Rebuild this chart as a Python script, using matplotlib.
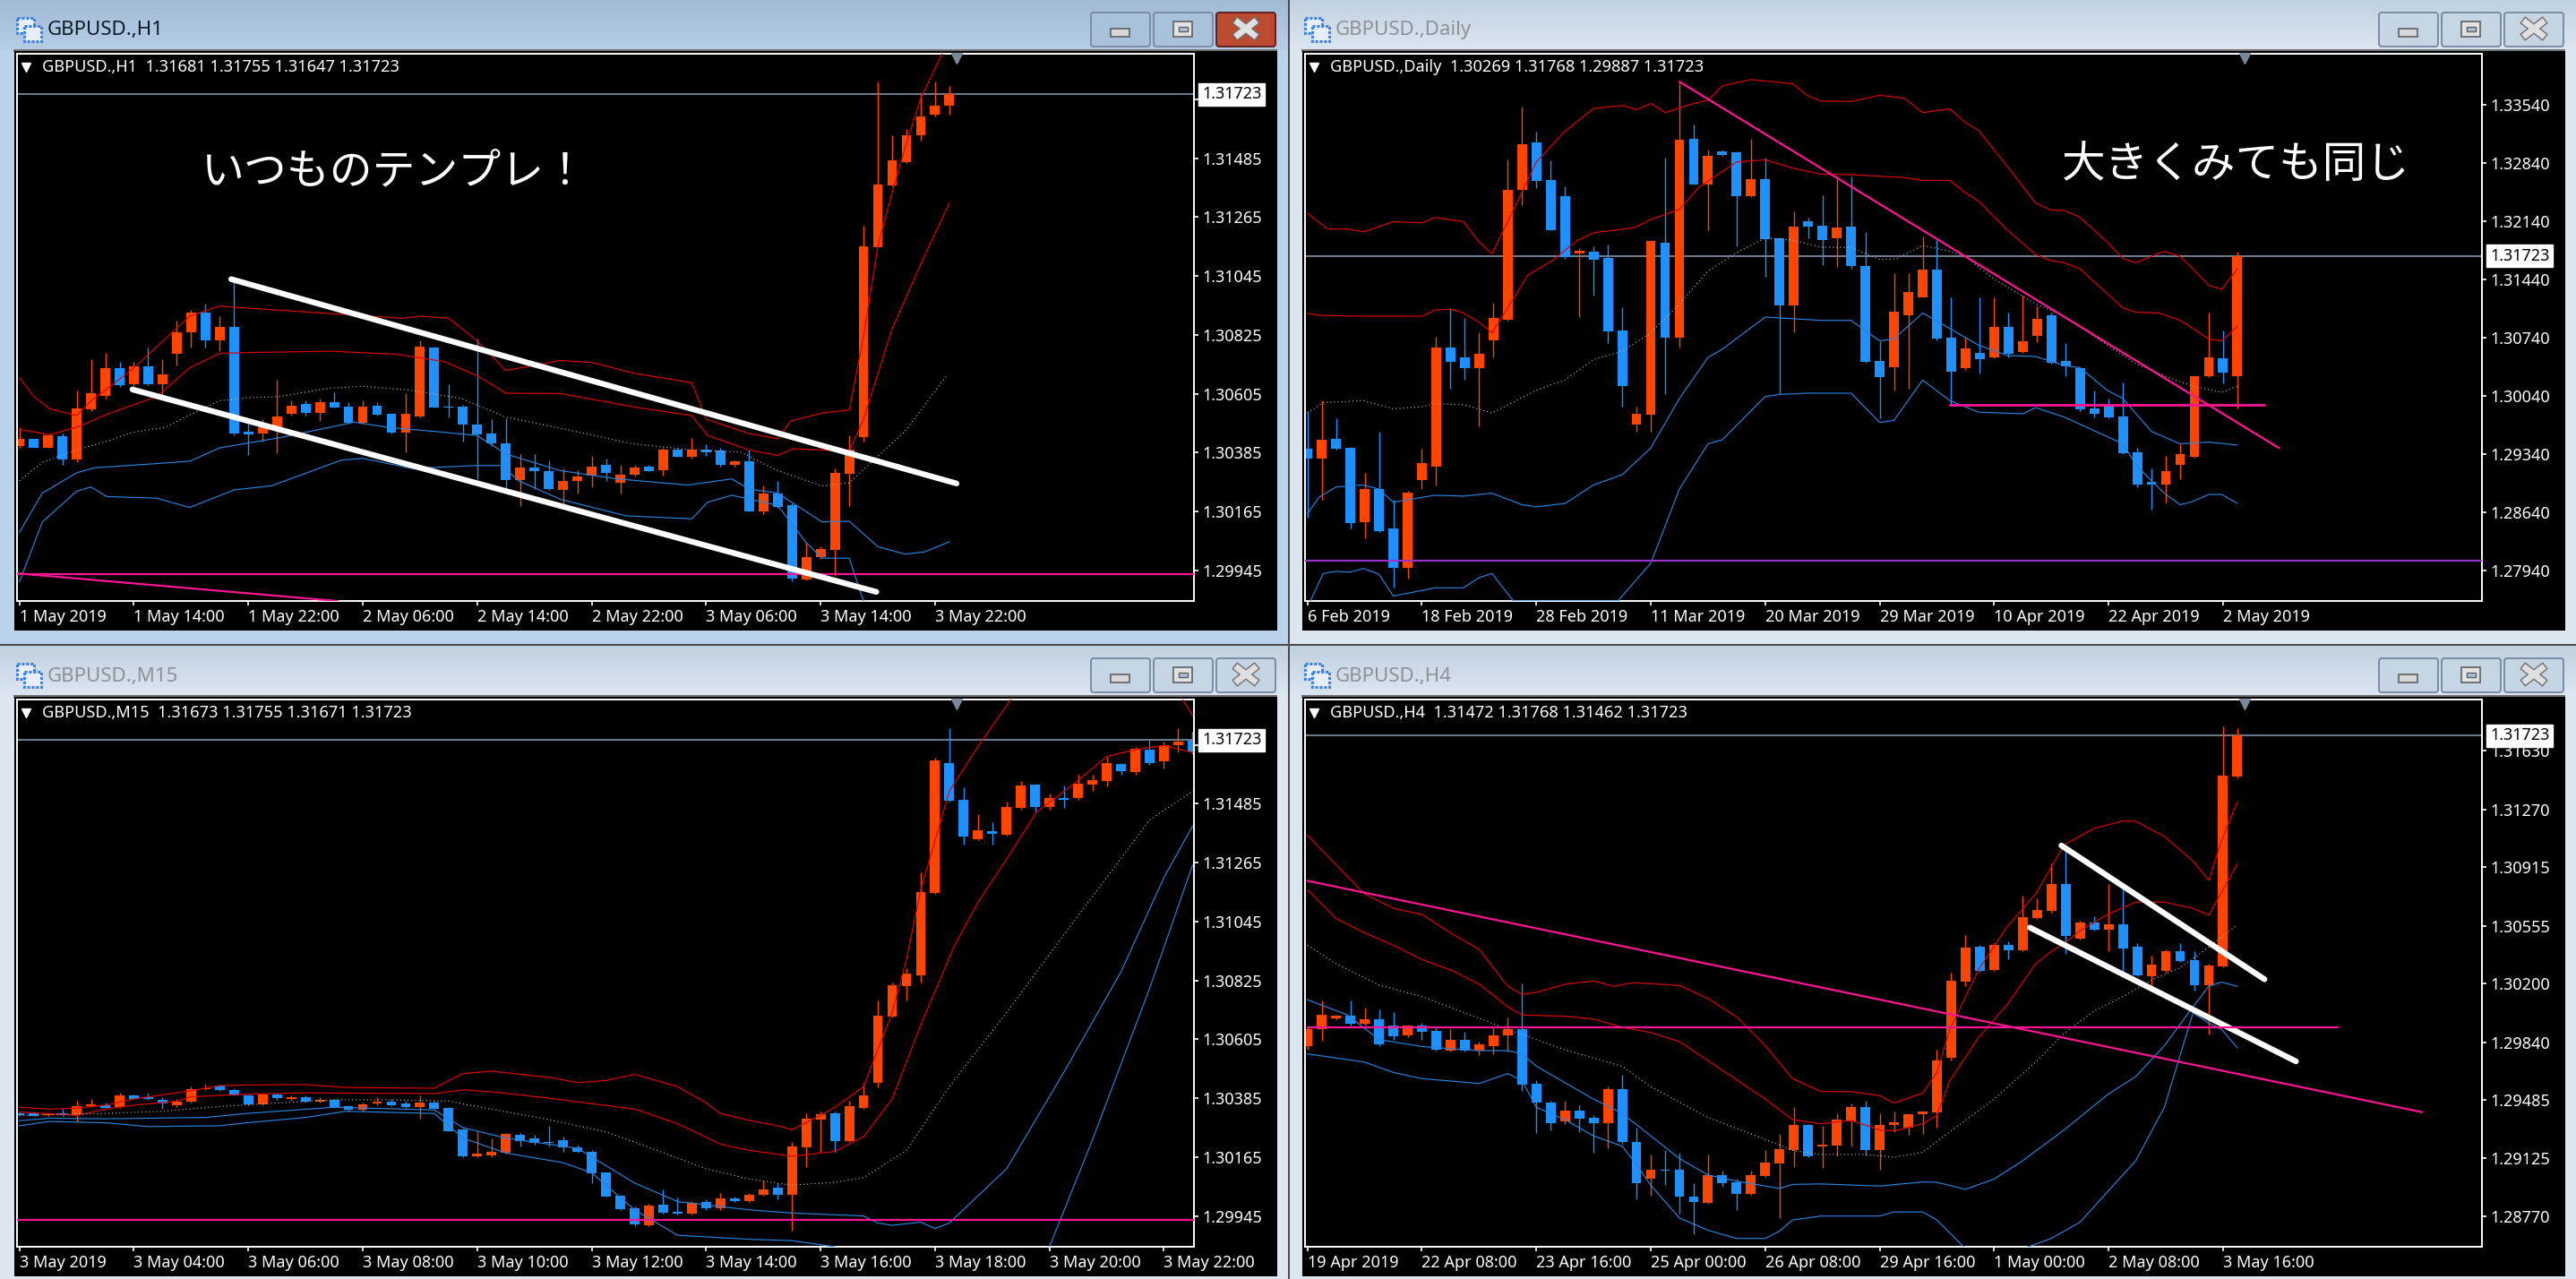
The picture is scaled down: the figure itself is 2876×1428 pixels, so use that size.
import numpy as np
import matplotlib
matplotlib.use("Agg")
import matplotlib.pyplot as plt
from matplotlib.patches import Rectangle, FancyBboxPatch
from matplotlib.transforms import blended_transform_factory

W, H = 2876, 1428
plt.rcParams['font.family'] = ['Noto Sans', 'Noto Sans CJK JP', 'DejaVu Sans']

ORANGE = "#ff4500"
BLUE = "#1e90ff"
BAND_BLUE = "#2a82dc"
PINK = "#ff1493"
RED = "#e00000"
LAST = 131723

# prices are kept in points (1e-5)
# ---- H1 ----
h1_open = [130410,130435,130404,130446,130360,130546,130598,130702,130639,130707,130639,130753,130835,130907,130805,130856,130463,130458,130480,130529,130566,130532,130572,130558,130496,130561,130529,130461,130521,130779,130558,130558,130490,130455,130420,130281,130330,130315,130246,130278,130298,130338,130272,130304,130332,130318,130398,130370,130398,130392,130341,130353,130167,130234,130188,129911,129995,130023,130307,130444,131154,131382,131471,131569,131646,131681]
h1_high = [130480,130435,130457,130457,130618,130733,130759,130725,130725,130779,130733,130879,130918,130941,130895,131033,130495,130510,130656,130579,130579,130587,130610,130572,130579,130572,130533,130606,130805,130782,130641,130564,130810,130510,130513,130380,130380,130357,130326,130318,130372,130364,130341,130341,130341,130403,130403,130441,130418,130403,130357,130395,130264,130280,130195,130049,130034,130326,130449,131233,131771,131571,131594,131724,131771,131755]
h1_low = [130403,130404,130403,130341,130349,130541,130587,130630,130633,130636,130602,130710,130779,130779,130764,130449,130377,130426,130383,130523,130523,130503,130553,130495,130495,130523,130458,130387,130518,130552,130518,130426,130287,130410,130249,130184,130249,130246,130195,130234,130257,130280,130234,130295,130315,130298,130369,130364,130372,130334,130334,130164,130157,130180,129903,129908,129988,129926,130184,130426,131151,131379,131468,131552,131640,131647]
h1_close = [130437,130404,130449,130361,130549,130606,130702,130636,130707,130639,130676,130836,130907,130805,130856,130458,130453,130480,130521,130561,130532,130572,130555,130496,130558,130526,130461,130529,130782,130555,130555,130490,130452,130420,130281,130330,130315,130249,130280,130297,130332,130309,130303,130330,130317,130398,130370,130398,130387,130341,130353,130167,130231,130183,129914,129995,130026,130310,130397,131156,131385,131476,131572,131640,131681,131723]
h1_up2_x = [0,1,2.1,4,5,6,8,11.9,14,15,22.5,26.8,28,30,32,34,37.8,40,42.9,47,48,51,53,53.9,56.1,58,59,60,61,62,63,64.5]
h1_up2_y = [130664,130595,130549,130523,130579,130618,130702,130895,130933,130928,130902,130887,130895,130887,130802,130692,130729,130722,130682,130646,130510,130456,130437,130503,130533,130544,130818,131156,131356,131540,131709,131875]
h1_up1_x = [0,2.1,4,6,9.6,11.9,14,15.9,21.7,26.3,29.7,32,34,37.8,42.9,47,48.1,51,53,54.1,58,59,61,63.3,65]
h1_up1_y = [130472,130452,130480,130526,130595,130702,130756,130759,130764,130753,130725,130672,130607,130606,130556,130523,130449,130395,130375,130400,130390,130510,130848,131125,131317]
h1_mid_x = [0,1.6,4,6,7.9,10.2,11.9,14,15.9,18.2,21.7,24,27.4,30.9,34,38.9,42.9,47,50.4,53,56.1,58,60,61.9,64.8]
h1_mid_y = [130280,130349,130395,130426,130461,130480,130526,130579,130590,130595,130626,130633,130618,130587,130518,130464,130418,130395,130387,130318,130261,130272,130372,130464,130672]
h1_lo1_x = [0,1.6,4,5.3,7.9,11.9,14,18.2,21.7,23.4,25.7,29.7,32,34,37.8,41.8,46.7,49.8,51,53,56.1,58,60,61.9,63.3,65]
h1_lo1_y = [130088,130234,130310,130329,130338,130353,130403,130441,130480,130499,130480,130461,130449,130380,130318,130287,130264,130287,130249,130234,130126,130129,130034,130006,130015,130052]
h1_lo2_x = [0,1.6,4,5,6.1,9.6,11.9,15,17.6,22.5,24,27.4,32,33.7,34.9,37.8,42.4,47,48.1,49.8,53,55,56.1,58,59,59.5]
h1_lo2_y = [129903,130126,130241,130257,130221,130215,130180,130246,130261,130357,130364,130326,130337,130337,130280,130211,130149,130138,130200,130226,130188,130049,129991,129991,129831,129773]
h1_ticks = [131705,131485,131265,131045,130825,130605,130385,130165,129945]
h1_times = ["1 May 2019","1 May 14:00","1 May 22:00","2 May 06:00","2 May 14:00","2 May 22:00","3 May 06:00","3 May 14:00","3 May 22:00"]
h1_ylim = (129831, 131875)
h1_white1_x, h1_white1_y = [14.8, 65.5], [131033, 130270]
h1_white2_x, h1_white2_y = [7.9, 59.9], [130621, 129865]
h1_pink_level = 129931
h1_pink2_x, h1_pink2_y = [-0.1, 22.2], [129934, 129831]

# ---- Daily ----
d1_open = [129396,129287,129524,129415,128519,128920,128445,127970,129029,129188,130623,130505,130366,130708,130955,132510,133084,132629,132445,131747,131772,131693,130826,129693,129806,131876,130732,133124,132584,132975,132965,132445,132648,131935,131128,132143,132079,131930,132069,131604,130460,130386,131005,131227,131559,130742,130366,130549,130505,130871,130569,130762,131010,130460,130376,129891,129930,129792,129361,129005,128975,129207,129306,130277,130485,130269]
d1_high = [129856,129980,129767,129420,129113,129608,128791,128891,129396,130747,131094,130970,130807,131153,132886,133520,133213,132876,132554,131812,131836,131861,131104,129906,131911,132901,133817,133297,133000,133000,132975,133124,132901,131945,132257,132183,132455,132678,132678,132010,130698,131515,131515,131960,131911,131218,130747,131218,131218,131044,131242,131119,131044,130673,130376,130104,130005,130203,129410,129163,129311,129460,130277,131034,130821,131768]
d1_low = [128569,128791,129386,128445,128321,128395,127727,127841,128915,128955,130128,130227,129673,130500,130945,132331,132539,132025,131688,130985,131242,130673,129906,129608,129608,130054,130623,132579,132034,132926,131836,132431,131465,130054,130807,131935,131614,131589,131564,130440,129767,130104,130128,131218,130708,129930,130351,130302,130490,130500,130559,130688,130425,130277,129856,129782,129767,129336,128940,128668,128757,129039,129296,130267,130188,129887]
d1_close = [129277,129514,129396,128504,128920,128405,127970,128876,129232,130614,130450,130366,130539,130970,132510,133069,132624,132034,131703,131787,131678,130812,130158,129826,131896,130732,133114,132584,132921,132940,132445,132643,131926,131128,132069,132069,131916,132059,131594,130450,130267,131054,131292,131559,130722,130326,130604,130475,130871,130539,130698,130960,130435,130391,129871,129816,129782,129346,128965,128965,129133,129341,130277,130505,130316,131723]
d1_up2_x = [0,1.4,2.8,3.9,6,8,8.9,10.9,12,12.9,14,16,18,20,22,23,24,25,26.8,28,29,31,33.9,35,35.9,38,40,41.7,43,44.9,46,46.9,48.9,50.9,52,52.9,54,55.9,57,57.9,59.9,61,61.9,63,63.9,65]
d1_up2_y = [132232,132044,132044,132010,132133,132119,132183,132133,131886,131747,132133,132851,133223,133495,133530,133480,133554,133445,133545,133594,133767,133842,133792,133644,133584,133579,133653,133619,133445,133490,133322,133233,132802,132356,132272,132267,132183,131886,131688,131638,131777,131713,131564,131366,131317,131564]
d1_up1_x = [0,.8,3.9,8,8.9,10,10.9,12,12.9,14,15.4,17.1,18.9,20,22.8,24,26,27.4,30,32,33.9,35.9,38,41.7,43,44.9,46,46.9,48.9,50.9,52,52.9,54,57,57.9,59.5,61,63,63.9,65]
d1_up1_y = [131029,131005,130995,130995,131069,131079,131034,130920,130797,131094,131490,131663,131911,132000,132059,132158,132282,132554,132851,132876,132777,132703,132698,132663,132629,132629,132480,132381,132034,131737,131663,131638,131564,131094,131044,131034,130945,130722,130698,130871]
d1_mid_x = [0,1.1,3.9,6,8,8.9,10.9,12.9,16,18,20,22,24,26,28,30,32,33.9,35.9,38,40,41.2,43,44.9,46,48,50.9,52.9,55.9,57.9,59.9,61.9,63.9,65]
d1_mid_y = [129831,129955,129980,129881,129906,129945,129930,129831,130104,130227,130475,130574,130797,131143,131539,131762,131935,131911,131826,131822,131678,131688,131846,131777,131713,131440,131143,130995,130648,130425,130277,130153,130079,130153]
d1_lo1_x = [0,.8,2,3.9,5,6,8,8.9,10.9,12.9,15,16,18,20,22,24,26,28,29,32,35.9,38,40,41,43,44.9,46.9,48.9,50.9,52.9,54,55.9,57,59,61,63,65]
d1_lo1_y = [128618,128816,128940,128965,128915,128757,128816,128841,128831,128866,128727,128702,128742,128965,129089,129410,130005,130500,130599,130985,130945,130945,130698,130722,131034,130846,130648,130524,130510,130401,130376,130104,130005,129608,129460,129480,129445]
d1_lo2_x = [.2,1.1,2,3,3.9,5,6,8.9,10.9,12,12.9,14.4,21.7,24,26,28,29,32,33,35,38,40,41,43,44.9,46.9,50,50.9,52.9,57,57.9,59,59.9,61,61.9,63,63.9,65]
d1_lo2_y = [127569,127900,127925,127915,127960,127891,127628,127727,127727,127851,127900,127569,127569,128024,128915,129460,129509,130029,130054,130069,130069,129717,129742,130227,129980,129841,129821,129896,129782,129460,129212,129014,128866,128727,128767,128851,128851,128742]
d1_ticks = [133540,132840,132140,131440,130740,130040,129340,128640,127940]
d1_times = ["6 Feb 2019","18 Feb 2019","28 Feb 2019","11 Mar 2019","20 Mar 2019","29 Mar 2019","10 Apr 2019","22 Apr 2019","2 May 2019"]
d1_ylim = (127569, 134153)
d1_pink_x, d1_pink_y = [26, 67.9], [133817, 129410]
d1_pink2_x, d1_pink2_y = [44.9, 66.9], [129930, 129930]
d1_purple_level = 128059

# ---- M15 ----
m15_open = [130330,130330,130321,130328,130321,130354,130359,130351,130397,130387,130379,130358,130371,130418,130431,130416,130397,130362,130399,130381,130390,130371,130379,130356,130341,130365,130371,130364,130351,130367,130347,130267,130168,130172,130180,130247,130235,130221,130227,130203,130186,130106,130022,129975,129910,129988,129959,129953,129998,129973,130011,129999,130024,130050,130024,130203,130305,130327,130226,130348,130443,130691,130805,130845,131152,131638,131500,131352,131382,131370,131468,131557,131471,131505,131505,131557,131568,131632,131604,131686,131644,131702,131721]
m15_high = [130336,130336,130333,130344,130374,130382,130367,130405,130400,130405,130390,130382,130428,130440,130436,130423,130400,130405,130405,130394,130397,130390,130382,130359,130367,130387,130382,130374,130394,130374,130351,130270,130260,130236,130256,130256,130247,130282,130241,130210,130191,130109,130025,129981,129991,130045,130014,129999,130007,130030,130017,130030,130079,130068,130221,130327,130336,130336,130374,130443,130750,130818,130872,131228,131656,131768,131546,131447,131416,131493,131569,131561,131523,131554,131592,131592,131661,131635,131696,131722,131718,131768,131755]
m15_low = [130319,130319,130319,130319,130298,130351,130348,130348,130381,130378,130344,130351,130367,130416,130413,130394,130359,130359,130378,130374,130367,130367,130348,130336,130336,130359,130354,130348,130310,130344,130260,130164,130164,130164,130177,130206,130212,130206,130186,130180,130068,130017,129968,129907,129907,129953,129950,129950,129968,129968,129996,129996,130020,130007,129889,130129,130183,130186,130221,130344,130425,130688,130750,130818,131148,131494,131332,131350,131332,131367,131462,131454,131462,131470,131500,131534,131549,131592,131592,131630,131615,131676,131671]
m15_close = [130321,130319,130324,130321,130354,130362,130350,130397,130382,130381,130364,130373,130420,130423,130416,130397,130362,130399,130384,130390,130371,130379,130351,130341,130361,130371,130358,130351,130368,130345,130263,130168,130177,130186,130252,130224,130217,130217,130203,130184,130103,130019,129972,129912,129984,129956,129953,129995,129973,130011,129999,130025,130045,130024,130206,130309,130324,130224,130354,130397,130694,130808,130849,131156,131646,131497,131362,131384,131373,131474,131554,131471,131505,131499,131561,131572,131638,131607,131689,131635,131705,131716,131681]
m15_up2_x = [0,2.1,4,6,8,12,14,15.9,19.9,22.8,29,30,31,33,35,37,39,41,43,46,48,49,51,53,54,56,57,59,60,61,62,63,64,65,67,69.3,75.1,81.3,82]
m15_up2_y = [130351,130344,130348,130359,130382,130413,130432,130434,130436,130425,130422,130451,130477,130486,130474,130463,130443,130451,130474,130428,130367,130328,130302,130282,130267,130321,130351,130428,130566,130704,130903,131163,131347,131531,131699,131874,132190,131874,131814]
m15_up1_x = [0,4,6,8,11,12,15.9,19.9,29,31,33,37,43,46,49,51,54,57,59,61,63,65.3,67,69.1,71.1,73.4,76,78,80,82]
m15_up1_y = [130333,130321,130344,130359,130374,130390,130400,130405,130402,130416,130409,130385,130344,130290,130213,130190,130168,130186,130241,130382,130658,130949,131117,131286,131454,131546,131661,131687,131702,131676]
m15_mid_x = [0,6,10,14,18,22,26,30,33,37,41,43,48,51,54,57,59,62,65,69,73,76,79,82]
m15_mid_y = [130321,130328,130336,130354,130367,130379,130379,130374,130344,130305,130259,130221,130121,130083,130060,130071,130088,130190,130428,130704,130995,131209,131424,131531]
m15_lo1_x = [0,2.1,6,13,15.9,22,29,31,34,39,43,46,51,54,59,60,61,63,64,65,69,73,77,80,82]
m15_lo1_y = [130301,130310,130308,130313,130328,130351,130341,130275,130236,130198,130068,129999,129968,129956,129945,129919,129910,129922,129898,129919,130121,130481,130857,131209,131401]
m15_lo2_x = [0,2.1,6,9,14,15.9,20,22.8,29,31,34,38,40,43,46,51,54,57,58,71,72,75,79,82]
m15_lo2_y = [130282,130298,130293,130279,130282,130293,130313,130336,130328,130236,130180,130144,130106,129968,129873,129858,129853,129830,129800,129723,129830,130229,130795,131255]
m15_ticks = h1_ticks
m15_times = ["3 May 2019","3 May 04:00","3 May 06:00","3 May 08:00","3 May 10:00","3 May 12:00","3 May 14:00","3 May 16:00","3 May 18:00","3 May 20:00","3 May 22:00"]
m15_ylim = (129830, 131874)
m15_pink_level = 129930

# ---- H4 ----
h4_open = [129818,129919,129987,130002,129952,129982,129941,129881,129944,129911,129788,129856,129788,129818,129881,129921,129586,129470,129354,129422,129377,129342,129553,129226,128999,129057,129057,128891,128855,129024,128981,128908,129019,129097,129180,129334,129201,129206,129354,129443,129175,129334,129314,129397,129410,129742,130214,130428,130284,130440,130405,130604,130645,130813,130478,130574,130529,130566,130428,130246,130277,130400,130345,130188,130307,131472]
h4_high = [129931,130095,130007,130095,130050,130040,130025,129949,129957,129931,129919,129906,129843,129931,129994,130201,129604,129478,129478,129453,129390,129566,129642,129314,129150,129175,129163,128974,129150,129049,128999,129049,129175,129276,129440,129339,129327,129402,129465,129478,129402,129415,129402,129415,129793,130267,130498,130435,130448,130461,130738,130725,130939,131015,130587,130612,130813,130788,130448,130372,130410,130448,130398,130322,131779,131768]
h4_low = [129793,129848,129982,129944,129944,129818,129856,129868,129856,129788,129780,129780,129763,129768,129780,129541,129284,129301,129339,129289,129163,129188,129218,128873,128898,128961,128785,128659,128848,128949,128810,128903,129012,128760,129075,129133,129067,129138,129201,129143,129054,129289,129269,129276,129314,129730,130183,130272,130277,130347,130398,130599,130637,130385,130473,130524,130398,130272,130246,130183,130267,130335,130158,129889,130302,131462]
h4_close = [129919,130007,130002,129952,129982,129826,129876,129944,129906,129793,129856,129788,129828,129884,129921,129579,129470,129342,129422,129369,129342,129553,129226,128971,129054,129052,128891,128860,129024,128971,128908,129024,129102,129185,129334,129138,129213,129362,129443,129175,129334,129347,129400,129412,129730,130216,130423,130277,130440,130405,130609,130650,130813,130493,130577,130531,130566,130418,130251,130319,130400,130340,130188,130312,131479,131723]
h4_up2_x = [0,2.3,4,6,8,10,12,14,15,16,18,20,21.4,22.8,26,28,30,32,33.9,35.9,38,40,41,43,44,44.9,46.9,48.9,50.9,52.9,55,57,57.9,59.9,61.9,63,63.9,65]
h4_up2_y = [131111,130902,130750,130662,130624,130511,130410,130183,130133,130146,130196,130216,130183,130206,130188,130108,129994,129818,129616,129536,129536,129511,129465,129528,129654,129919,130284,130549,130750,131053,131154,131199,131196,131103,130952,130834,131078,131317]
h4_up1_x = [0,2,4,6,8,10,12,14,15,18,20,22,24,26,29,32,33.9,35.9,38,40,41,43,44,44.9,46.9,48.9,50.9,52,52.9,54,55.9,57.9,59.9,61.9,63,63.9,65]
h4_up1_y = [130776,130599,130511,130435,130347,130284,130196,130057,130007,129999,129982,129931,129899,129843,129667,129490,129364,129339,129359,129301,129294,129339,129390,129604,129868,130070,130322,130398,130448,130524,130624,130700,130700,130662,130619,130763,130934]
h4_mid_x = [0,2,5,8,11,14,16,18,22,24,28,32,33.9,35.9,39,41,43,44.9,48,50.9,52.9,55,57,59,61,63,65]
h4_mid_y = [130435,130322,130191,130120,130020,129919,129856,129793,129692,129566,129377,129243,129175,129150,129150,129133,129163,129289,129490,129717,129894,130032,130120,130221,130297,130423,130561]
h4_lo1_x = [0,2.8,5,8,12,14,15,16,18,20,22,24,26,28,30,33,33.9,35.9,40,43,44,46,48,50,52.9,55.9,57.9,59.9,61.9,63,63.9,65]
h4_lo1_y = [130100,130007,129856,129813,129788,129788,129768,129692,129591,129490,129402,129264,129125,129024,128986,128941,128966,128969,128956,128981,128979,128936,128999,129112,129301,129516,129629,129818,130057,130183,130209,130183]
h4_lo2_x = [0,4,6,8,12,14,15,16,18,20,22,23,24,26,28,30,32,33,33.9,35.9,40,41,43,44,46,50,52,54,57.9,59.9,61.9,63,63.9,65]
h4_lo2_y = [129768,129717,129654,129616,129586,129647,129604,129440,129364,129264,129201,129087,128961,128760,128684,128634,128634,128679,128747,128772,128772,128797,128797,128747,128571,128571,128634,128734,129112,129440,130020,129957,129919,129805]
h4_ticks = [131630,131270,130915,130555,130200,129840,129485,129125,128770]
h4_times = ["19 Apr 2019","22 Apr 08:00","23 Apr 16:00","25 Apr 00:00","26 Apr 08:00","29 Apr 16:00","1 May 00:00","2 May 08:00","3 May 16:00"]
h4_ylim = (128583, 131945)
h4_white1_x, h4_white1_y = [52.7, 66.9], [131048, 130226]
h4_white2_x, h4_white2_y = [50.5, 69.1], [130544, 129722]
h4_pink_x, h4_pink_y = [0, 77.9], [130831, 129410]
h4_pink2_x, h4_pink2_y = [0, 72], [129931, 129931]


def pixel_axes(fig, x0, y0, x1, y1):
    return fig.add_axes([x0 / W, 1 - y1 / H, (x1 - x0) / W, (y1 - y0) / H])


def draw_window(bg, x0, y0, title, active):
    """Terminal window frame behind one chart."""
    if active:
        top, mid, side, txt = "#a2bbd5", "#b6cee7", "#b9d1ea", "#0c1a28"
    else:
        top, mid, side, txt = "#c2d1df", "#dbe6f1", "#dbe6f1", "#8b9298"
    y1 = y0 + 719 if y0 == 0 else 1428
    bg.add_patch(Rectangle((x0, y0), 1438, y1 - y0, fc=side, ec="none"))
    rgb_a = np.array(matplotlib.colors.to_rgb(top))
    rgb_b = np.array(matplotlib.colors.to_rgb(mid))
    grad = np.linspace(0, 1, 56)[:, None, None] * (rgb_b - rgb_a) + rgb_a
    bg.imshow(grad, extent=(x0, x0 + 1438, y0 + 56, y0), aspect="auto", zorder=1)
    bg.add_patch(Rectangle((x0 + 15, y0 + 55), 1411, 3, fc="#707070", ec="none", zorder=2))
    bg.add_patch(Rectangle((x0 + 16, y0 + 57), 1410, 647, fc="black", ec="none", zorder=2))
    # icon
    for dx, dy in ((19, 20), (27, 29)):
        bg.add_patch(Rectangle((x0 + dx, y0 + dy), 19, 17, fc="#e6effb", ec="#3f7fe0", lw=2.2, ls=(0, (1, 0.6)), zorder=3))
    bg.text(x0 + 53, y0 + 34, title, color=txt, fontsize=16, va="center", ha="left", zorder=3)
    # buttons
    for k, bx in enumerate((1218, 1288, 1358)):
        face, edge = "#a9c2dc" if active else "#c6d5e4", "#7c8ca4"
        if active and k == 2:
            face, edge = "#bb4a30", "#5f2020"
        bg.add_patch(FancyBboxPatch((x0 + bx, y0 + 14), 66, 38, boxstyle="round,pad=0,rounding_size=3",
                                    fc=face, ec=edge, lw=1.4, zorder=3))
        cx = x0 + bx + 33
        cy = y0 + 32
        if k == 0:
            bg.add_patch(Rectangle((cx - 11, y0 + 32), 21, 9, fc="#d8d8d8", ec="#606060", lw=1.2, zorder=4))
        elif k == 1:
            bg.add_patch(Rectangle((cx - 11, y0 + 24), 21, 17, fc="#e2e2e2", ec="#606060", lw=1.2, zorder=4))
            bg.add_patch(Rectangle((cx - 5, y0 + 30), 10, 5, fc="#a9c2dc", ec="#606060", lw=1, zorder=5))
        else:
            for sgn in (1, -1):
                bg.plot([cx - 9, cx + 9], [cy - sgn * 7, cy + sgn * 7], color="#707070", lw=7,
                        solid_capstyle="projecting", zorder=4)
            for sgn in (1, -1):
                bg.plot([cx - 9, cx + 9], [cy - sgn * 7, cy + sgn * 7], color="#e0e0e0", lw=5,
                        solid_capstyle="projecting", zorder=4)


def draw_chart(ax, opens, highs, lows, closes, ylim, ticks, times, bands, legend):
    opens, highs, lows, closes = [np.array(v) / 1e5 for v in (opens, highs, lows, closes)]
    x = np.arange(len(opens))
    up = closes >= opens
    colors = np.where(up, ORANGE, BLUE)

    ax.set_facecolor("black")
    ax.vlines(x, lows, highs, colors=colors, lw=1.0, zorder=2)
    ax.bar(x, np.maximum(np.abs(closes - opens), 1e-5), bottom=np.minimum(opens, closes),
           width=0.68, color=colors, zorder=2)

    for (bx, by), color, style in zip(bands, (RED, RED, "#b0b0b0", BAND_BLUE, BAND_BLUE),
                                      ("-", "-", (0, (1, 2.5)), "-", "-")):
        ax.plot(bx, np.array(by) / 1e5, color=color, lw=0.85, ls=style, zorder=3)

    ax.axhline(LAST / 1e5, color="#778899", lw=1.3, zorder=1)

    ax.set_xlim(-0.17, 82.1)
    ax.set_ylim(ylim[0] / 1e5, ylim[1] / 1e5)
    ax.yaxis.tick_right()
    ax.set_yticks(np.array(ticks) / 1e5)
    ax.set_yticklabels([f"{t / 1e5:.5f}" for t in ticks])
    ax.set_xticks(np.arange(len(times)) * 8)
    ax.set_xticklabels(times, ha="left")
    ax.tick_params(colors="white", labelsize=13, length=3.5, width=1.2, pad=3)
    for spine in ax.spines.values():
        spine.set_color("white")
        spine.set_linewidth(1.4)

    trans = blended_transform_factory(ax.transAxes, ax.transData)
    ax.text(1.0068, LAST / 1e5, f"{LAST / 1e5:.5f}", transform=trans, color="black", fontsize=13,
            va="center", ha="left", zorder=20, clip_on=False,
            bbox=dict(fc="white", ec="white", boxstyle="square,pad=0.2"))
    ax.text(0.0213, 0.9755, legend, transform=ax.transAxes, color="white", fontsize=13.1, va="center", ha="left", zorder=20)
    ax.plot(0.0075, 0.9755, marker="v", ms=7, color="white", transform=ax.transAxes, zorder=20)
    ax.plot(0.798, 0.991, marker="v", ms=9, color="#778899", transform=ax.transAxes, clip_on=False, zorder=20)


fig = plt.figure(figsize=(W / 100, H / 100), dpi=100)
fig.patch.set_facecolor("#4a4a4a")

bg = fig.add_axes([0, 0, 1, 1])
bg.set_xlim(0, W)
bg.set_ylim(H, 0)
bg.axis("off")
draw_window(bg, 0, 0, "GBPUSD.,H1", True)
draw_window(bg, 1438, 0, "GBPUSD.,Daily", False)
draw_window(bg, 0, 721, "GBPUSD.,M15", False)
draw_window(bg, 1438, 721, "GBPUSD.,H4", False)
bg.add_patch(Rectangle((1438, 0), 2.4, H, fc="#4a4a4a", ec="none", zorder=6))
bg.add_patch(Rectangle((0, 718.6), W, 2.4, fc="#4a4a4a", ec="none", zorder=6))
bg.set_xlim(0, W)
bg.set_ylim(H, 0)

ax_h1 = pixel_axes(fig, 19, 60, 1333, 671)
ax_d1 = pixel_axes(fig, 1457, 60, 2771, 671)
ax_m15 = pixel_axes(fig, 19, 781, 1333, 1392)
ax_h4 = pixel_axes(fig, 1457, 781, 2771, 1392)

draw_chart(ax_h1, h1_open, h1_high, h1_low, h1_close, h1_ylim, h1_ticks, h1_times,
           [(h1_up2_x, h1_up2_y), (h1_up1_x, h1_up1_y), (h1_mid_x, h1_mid_y), (h1_lo1_x, h1_lo1_y), (h1_lo2_x, h1_lo2_y)],
           "GBPUSD.,H1  1.31681 1.31755 1.31647 1.31723")
draw_chart(ax_d1, d1_open, d1_high, d1_low, d1_close, d1_ylim, d1_ticks, d1_times,
           [(d1_up2_x, d1_up2_y), (d1_up1_x, d1_up1_y), (d1_mid_x, d1_mid_y), (d1_lo1_x, d1_lo1_y), (d1_lo2_x, d1_lo2_y)],
           "GBPUSD.,Daily  1.30269 1.31768 1.29887 1.31723")
draw_chart(ax_m15, m15_open, m15_high, m15_low, m15_close, m15_ylim, m15_ticks, m15_times,
           [(m15_up2_x, m15_up2_y), (m15_up1_x, m15_up1_y), (m15_mid_x, m15_mid_y), (m15_lo1_x, m15_lo1_y), (m15_lo2_x, m15_lo2_y)],
           "GBPUSD.,M15  1.31673 1.31755 1.31671 1.31723")
draw_chart(ax_h4, h4_open, h4_high, h4_low, h4_close, h4_ylim, h4_ticks, h4_times,
           [(h4_up2_x, h4_up2_y), (h4_up1_x, h4_up1_y), (h4_mid_x, h4_mid_y), (h4_lo1_x, h4_lo1_y), (h4_lo2_x, h4_lo2_y)],
           "GBPUSD.,H4  1.31472 1.31768 1.31462 1.31723")


def trend(ax, xs, ys, color, lw):
    ax.plot(xs, np.array(ys) / 1e5, color=color, lw=lw, solid_capstyle="round", zorder=5)


# hand drawn channels and levels
trend(ax_h1, h1_white1_x, h1_white1_y, "white", 4.6)
trend(ax_h1, h1_white2_x, h1_white2_y, "white", 4.6)
ax_h1.axhline(h1_pink_level / 1e5, color=PINK, lw=1.6, zorder=4)
trend(ax_h1, h1_pink2_x, h1_pink2_y, PINK, 1.6)

trend(ax_d1, d1_pink_x, d1_pink_y, PINK, 1.6)
trend(ax_d1, d1_pink2_x, d1_pink2_y, PINK, 2)
ax_d1.axhline(d1_purple_level / 1e5, color="#9932cc", lw=1.6, zorder=4)

ax_m15.axhline(m15_pink_level / 1e5, color=PINK, lw=1.6, zorder=4)

trend(ax_h4, h4_white1_x, h4_white1_y, "white", 4.6)
trend(ax_h4, h4_white2_x, h4_white2_y, "white", 4.6)
trend(ax_h4, h4_pink_x, h4_pink_y, PINK, 1.6)
trend(ax_h4, h4_pink2_x, h4_pink2_y, PINK, 1.6)

jp = ['Noto Sans CJK JP', 'DejaVu Sans']
ax_h1.text(0.157, 0.784, "いつものテンプレ！", transform=ax_h1.transAxes, color="white", fontsize=34.5,
           family=jp, va="center", ha="left", zorder=20)
ax_d1.text(0.643, 0.796, "大きくみても同じ", transform=ax_d1.transAxes, color="white", fontsize=35,
           family=jp, va="center", ha="left", zorder=20)

fig.savefig("out.png", dpi=100, facecolor=fig.get_facecolor())
